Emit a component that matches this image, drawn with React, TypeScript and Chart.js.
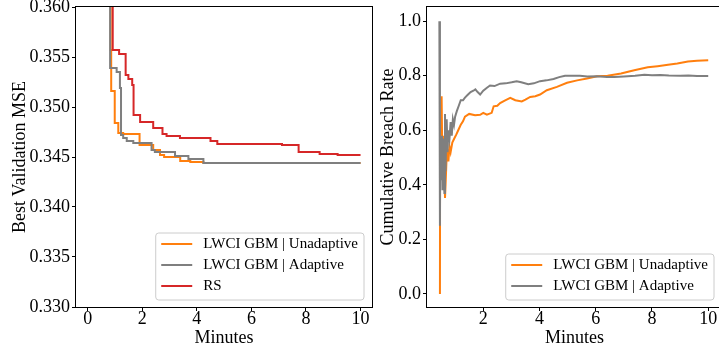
import React, { useEffect, useRef } from "react";
import { Chart, registerables } from "chart.js";

Chart.register(...registerables);

const FONT = "'Liberation Serif', 'Times New Roman', serif";
const ORANGE = "#ff7f0e";
const GRAY = "#7f7f7f";
const RED = "#d62728";

// ---------- Left panel: best validation MSE (step curves) ----------
const unadTimes = [0.1, 0.84, 0.86, 0.99, 1.12, 1.3, 1.9, 2.4, 2.65, 2.8, 3.39, 3.76, 4.24, 10.0];
const unadMSE = [0.372, 0.3557, 0.3516, 0.3484, 0.3474, 0.3473, 0.3462, 0.3457, 0.3452, 0.345, 0.3446, 0.3445, 0.3444, 0.3444];

const adTimes = [0.1, 0.82, 1.06, 1.18, 1.22, 1.3, 1.43, 1.67, 2.34, 2.46, 3.2, 3.69, 4.24, 10.0];
const adMSE = [0.372, 0.3539, 0.3535, 0.3519, 0.3472, 0.3469, 0.3466, 0.3464, 0.3457, 0.3455, 0.3451, 0.3448, 0.3444, 0.3444];

const rsTimes = [0.1, 0.916, 1.15, 1.39, 1.49, 1.63, 1.68, 1.92, 2.4, 2.74, 2.89, 3.38, 4.5, 4.75, 7.12, 7.73, 8.5, 9.16, 10.0];
const rsMSE = [0.372, 0.3557, 0.3553, 0.3532, 0.3528, 0.3522, 0.3492, 0.3485, 0.3479, 0.3473, 0.3471, 0.3469, 0.3466, 0.3463, 0.3462, 0.3455, 0.3453, 0.3452, 0.3452];

const leftXTicks = [0, 2, 4, 6, 8, 10];
const leftYTicks = [0.33, 0.335, 0.34, 0.345, 0.35, 0.355, 0.36];

// ---------- Right panel: cumulative breach rate ----------
const unadRateTimes = [0.46, 0.465, 0.49, 0.52, 0.54, 0.57, 0.6, 0.62, 0.64, 0.66, 0.69, 0.72, 0.76, 0.8, 0.84, 0.9, 0.97, 1.04, 1.11, 1.2, 1.28, 1.35, 1.5, 1.71, 1.89, 2.0, 2.13, 2.3, 2.37, 2.5, 2.6, 2.78, 2.96, 3.14, 3.37, 3.5, 3.67, 3.85, 4.02, 4.26, 4.62, 4.98, 5.34, 5.69, 6.05, 6.42, 6.9, 7.37, 7.85, 8.2, 8.57, 8.9, 9.28, 9.6, 10.0];
const unadRate = [0.0, 0.5, 0.45, 0.725, 0.54, 0.58, 0.5, 0.45, 0.352, 0.4, 0.48, 0.53, 0.486, 0.54, 0.52, 0.555, 0.57, 0.584, 0.6, 0.62, 0.633, 0.65, 0.66, 0.655, 0.657, 0.664, 0.657, 0.664, 0.688, 0.69, 0.7, 0.71, 0.719, 0.71, 0.706, 0.712, 0.722, 0.725, 0.731, 0.747, 0.759, 0.774, 0.783, 0.79, 0.798, 0.8, 0.808, 0.82, 0.831, 0.835, 0.84, 0.845, 0.852, 0.855, 0.857];

const adRateTimes = [0.44, 0.46, 0.47, 0.49, 0.51, 0.53, 0.55, 0.57, 0.59, 0.62, 0.64, 0.66, 0.68, 0.7, 0.73, 0.76, 0.8, 0.84, 0.88, 0.92, 0.96, 1.0, 1.06, 1.13, 1.2, 1.28, 1.35, 1.45, 1.55, 1.65, 1.72, 1.8, 1.89, 2.0, 2.12, 2.24, 2.4, 2.6, 2.8, 3.01, 3.19, 3.35, 3.6, 3.8, 4.02, 4.25, 4.5, 4.7, 4.91, 5.2, 5.44, 5.7, 6.04, 6.4, 6.66, 7.0, 7.4, 7.73, 8.0, 8.3, 8.6, 9.0, 9.3, 9.6, 10.0];
const adRate = [1.0, 0.25, 0.5, 0.58, 0.42, 0.58, 0.38, 0.57, 0.45, 0.37, 0.66, 0.45, 0.58, 0.64, 0.52, 0.6, 0.57, 0.63, 0.58, 0.64, 0.62, 0.65, 0.67, 0.69, 0.71, 0.71, 0.72, 0.73, 0.74, 0.745, 0.75, 0.74, 0.731, 0.745, 0.755, 0.764, 0.762, 0.771, 0.772, 0.776, 0.78, 0.776, 0.769, 0.772, 0.78, 0.783, 0.788, 0.795, 0.8, 0.8, 0.8, 0.797, 0.798, 0.795, 0.795, 0.797, 0.8, 0.804, 0.802, 0.803, 0.801, 0.8, 0.801, 0.799, 0.799];

const rightXTicks = [2, 4, 6, 8, 10];
const rightYTicks = [0, 0.2, 0.4, 0.6, 0.8, 1.0];

const toPoints = (xs: number[], ys: number[]) => xs.map((x, i) => ({ x, y: ys[i] }));

const framePlugin = {
  id: "frame",
  afterDatasetsDraw(chart: any) {
    const { ctx, chartArea: a } = chart;
    ctx.save();
    ctx.strokeStyle = "#000";
    ctx.lineWidth = 1;
    const l = Math.round(a.left) - 0.5;
    const t = Math.round(a.top) - 0.5;
    const r = Math.round(a.right) + 0.5;
    const b = Math.round(a.bottom) + 0.5;
    ctx.strokeRect(l, t, r - l, b - t);
    ctx.restore();
  },
};

const legendPlugin = {
  id: "mplLegend",
  afterDraw(chart: any, _args: any, opts: any) {
    const { ctx, chartArea: a } = chart;
    const items = chart.data.datasets.map((d: any) => ({ label: d.label, color: d.borderColor }));
    ctx.save();
    ctx.font = `15px ${FONT}`;
    const tw = Math.max(...items.map((i: any) => ctx.measureText(i.label).width));
    const padL = 5.5, handle = 31, gap = 11, padR = 6;
    const first = 11, rowGap = 21, lastPad = 14;
    const w = padL + handle + gap + tw + padR;
    const h = first + rowGap * (items.length - 1) + lastPad;
    const x = a.right - opts.marginR - w;
    const y = a.bottom - opts.marginB - h;
    const rad = 3;
    ctx.beginPath();
    ctx.moveTo(x + rad, y);
    ctx.arcTo(x + w, y, x + w, y + h, rad);
    ctx.arcTo(x + w, y + h, x, y + h, rad);
    ctx.arcTo(x, y + h, x, y, rad);
    ctx.arcTo(x, y, x + w, y, rad);
    ctx.closePath();
    ctx.fillStyle = "rgba(255,255,255,0.8)";
    ctx.fill();
    ctx.strokeStyle = "#cccccc";
    ctx.lineWidth = 1;
    ctx.stroke();
    items.forEach((it: any, i: number) => {
      const ry = y + first + rowGap * i;
      ctx.strokeStyle = it.color;
      ctx.lineWidth = 2;
      ctx.beginPath();
      ctx.moveTo(x + padL, ry);
      ctx.lineTo(x + padL + handle, ry);
      ctx.stroke();
      ctx.fillStyle = "#000";
      ctx.textBaseline = "middle";
      ctx.textAlign = "left";
      ctx.fillText(it.label, x + padL + handle + gap, ry);
    });
    ctx.restore();
  },
};

const tickFont = { family: FONT, size: 18 };

function makeScales(o: {
  xMin: number; xMax: number; yMin: number; yMax: number;
  xTicks: number[]; yTicks: number[]; yDigits: number;
  yWidth: number; yTitle: string; yTitlePad: number;
}) {
  const grid = { display: true, drawOnChartArea: false, drawTicks: true, tickLength: 4, color: "#000", lineWidth: 1 };
  return {
    x: {
      type: "linear",
      min: o.xMin,
      max: o.xMax,
      grid,
      border: { display: false },
      afterBuildTicks: (s: any) => { s.ticks = o.xTicks.map((v) => ({ value: v })); },
      afterFit: (s: any) => { s.height = 45; s.paddingLeft = 0; s.paddingRight = 0; },
      ticks: { font: tickFont, color: "#000", padding: -3, maxRotation: 0, autoSkip: false, callback: (v: any) => String(v) },
      title: { display: true, text: "Minutes", font: tickFont, color: "#000", padding: { top: 0, bottom: 3 } },
    },
    y: {
      type: "linear",
      min: o.yMin,
      max: o.yMax,
      grid,
      border: { display: false },
      afterBuildTicks: (s: any) => { s.ticks = o.yTicks.map((v) => ({ value: v })); },
      afterFit: (s: any) => { s.width = o.yWidth; s.paddingTop = 0; s.paddingBottom = 0; },
      ticks: { font: tickFont, color: "#000", padding: 2, autoSkip: false, callback: (v: any) => Number(v).toFixed(o.yDigits) },
      title: { display: true, text: o.yTitle, font: tickFont, color: "#000", padding: { top: o.yTitlePad, bottom: 0 } },
    },
  };
}

export default function App() {
  const leftRef = useRef<HTMLCanvasElement>(null);
  const rightRef = useRef<HTMLCanvasElement>(null);

  useEffect(() => {
    const left = new Chart(leftRef.current as HTMLCanvasElement, {
      type: "line",
      data: {
        datasets: [
          { label: "LWCI GBM | Unadaptive", data: toPoints(unadTimes, unadMSE), borderColor: ORANGE, order: 2 },
          { label: "LWCI GBM | Adaptive", data: toPoints(adTimes, adMSE), borderColor: GRAY, order: 1 },
          { label: "RS", data: toPoints(rsTimes, rsMSE), borderColor: RED, order: 0 },
        ].map((d) => ({ ...d, stepped: true, borderWidth: 2, pointRadius: 0, fill: false, backgroundColor: d.borderColor })),
      },
      options: {
        responsive: false,
        animation: false,
        devicePixelRatio: 1,
        layout: { padding: { top: 7, right: 8, left: 0, bottom: 0 } },
        plugins: {
          legend: { display: false },
          tooltip: { enabled: false },
          mplLegend: { marginR: 8, marginB: 7 },
        } as any,
        scales: makeScales({
          xMin: -0.43, xMax: 10.42, yMin: 0.33, yMax: 0.36,
          xTicks: leftXTicks, yTicks: leftYTicks, yDigits: 3,
          yWidth: 76, yTitle: "Best Validation MSE", yTitlePad: 9,
        }) as any,
      },
      plugins: [framePlugin, legendPlugin],
    } as any);

    const right = new Chart(rightRef.current as HTMLCanvasElement, {
      type: "line",
      data: {
        datasets: [
          { label: "LWCI GBM | Unadaptive", data: toPoints(unadRateTimes, unadRate), borderColor: ORANGE, order: 1 },
          { label: "LWCI GBM | Adaptive", data: toPoints(adRateTimes, adRate), borderColor: GRAY, order: 0 },
        ].map((d) => ({ ...d, borderWidth: 2, pointRadius: 0, fill: false, tension: 0, backgroundColor: d.borderColor })),
      },
      options: {
        responsive: false,
        animation: false,
        devicePixelRatio: 1,
        layout: { padding: { top: 7, right: 2, left: 0, bottom: 0 } },
        plugins: {
          legend: { display: false },
          tooltip: { enabled: false },
          mplLegend: { marginR: 8, marginB: 7 },
        } as any,
        scales: makeScales({
          xMin: 0, xMax: 10.49, yMin: -0.048, yMax: 1.052,
          xTicks: rightXTicks, yTicks: rightYTicks, yDigits: 1,
          yWidth: 57, yTitle: "Cumulative Breach Rate", yTitlePad: 7,
        }) as any,
      },
      plugins: [framePlugin, legendPlugin],
    } as any);

    return () => {
      left.destroy();
      right.destroy();
    };
  }, []);

  return (
    <div style={{ position: "fixed", left: 0, top: 0, width: 719, height: 352, overflow: "hidden", background: "#fff" }}>
      <canvas ref={leftRef} width={380} height={352} style={{ position: "absolute", left: 0, top: 0, width: 380, height: 352 }} />
      <canvas ref={rightRef} width={354} height={352} style={{ position: "absolute", left: 370, top: 0, width: 354, height: 352 }} />
    </div>
  );
}
